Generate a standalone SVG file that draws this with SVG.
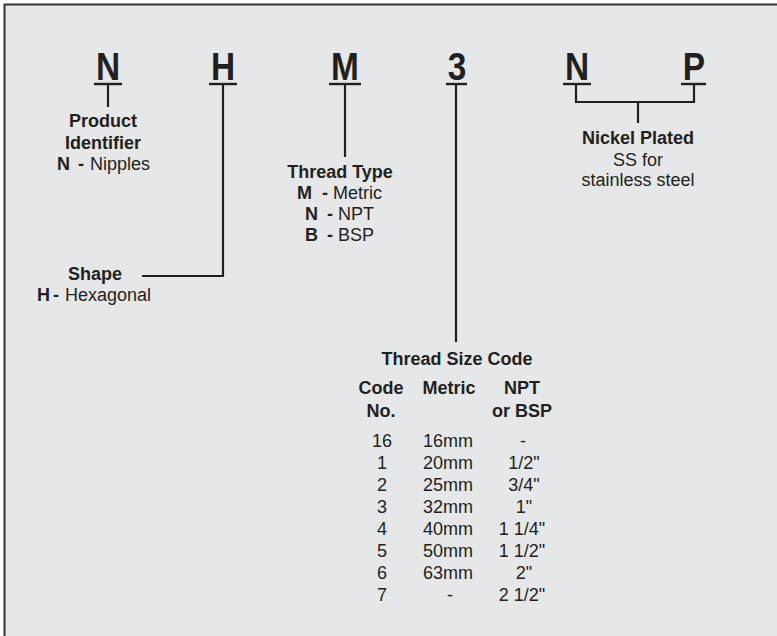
<svg xmlns="http://www.w3.org/2000/svg" width="777" height="636" viewBox="0 0 777 636">
<style>
text{font-family:"Liberation Sans",Arial,sans-serif;fill:#231f20;font-size:18px}
.b{font-weight:bold}
.c{text-anchor:middle}
.big{font-weight:bold;font-size:38px;text-anchor:middle}
.ln{stroke:#231f20;stroke-width:2.2;fill:none}
.ul{stroke:#231f20;stroke-width:2.4}
</style>
<rect x="0" y="0" width="777" height="636" fill="#ffffff"/>
<rect x="4.5" y="4.5" width="790" height="650" fill="#e6e7e8" stroke="#333333" stroke-width="2"/>
<g id="connectors">
<path class="ln" d="M108 85V107"/>
<path class="ln" d="M223 85V276H142"/>
<path class="ln" d="M345 85V157"/>
<path class="ln" d="M456 85V342"/>
<path class="ln" d="M576 85V102H694V85M638 102V123"/>
</g>
<g id="letter-N">
<text class="big" transform="translate(108 80) scale(0.88 1)">N</text>
<line class="ul" x1="94" y1="84" x2="122" y2="84"/>
</g>
<g id="letter-H">
<text class="big" transform="translate(223 80) scale(0.88 1)">H</text>
<line class="ul" x1="209" y1="84" x2="237" y2="84"/>
</g>
<g id="letter-M">
<text class="big" transform="translate(345 80) scale(0.88 1)">M</text>
<line class="ul" x1="329" y1="84" x2="361" y2="84"/>
</g>
<g id="letter-3">
<text class="big" transform="translate(457 80) scale(0.88 1)">3</text>
<line class="ul" x1="446" y1="84" x2="467" y2="84"/>
</g>
<g id="letter-N2">
<text class="big" transform="translate(577 80) scale(0.88 1)">N</text>
<line class="ul" x1="563" y1="84" x2="591" y2="84"/>
</g>
<g id="letter-P">
<text class="big" transform="translate(694 80) scale(0.88 1)">P</text>
<line class="ul" x1="681" y1="84" x2="706" y2="84"/>
</g>
<g id="product-identifier">
<text class="b c" x="103" y="127">Product</text>
<text class="b c" x="103" y="149">Identifier</text>
<text x="57" y="170"><tspan class="b">N</tspan><tspan class="b" x="78">-</tspan><tspan x="90">Nipples</tspan></text>
</g>
<g id="shape">
<text class="b c" x="95" y="280">Shape</text>
<text x="37" y="301"><tspan class="b">H</tspan><tspan class="b" x="53">-</tspan><tspan x="65">Hexagonal</tspan></text>
</g>
<g id="thread-type">
<text class="b c" x="340" y="178">Thread Type</text>
<text x="297" y="199"><tspan class="b">M</tspan><tspan class="b" x="322">-</tspan><tspan x="333">Metric</tspan></text>
<text x="305" y="220"><tspan class="b">N</tspan><tspan class="b" x="327">-</tspan><tspan x="338">NPT</tspan></text>
<text x="305" y="241"><tspan class="b">B</tspan><tspan class="b" x="327">-</tspan><tspan x="338">BSP</tspan></text>
</g>
<g id="nickel-plated">
<text class="b c" x="638" y="144">Nickel Plated</text>
<text class="c" x="638" y="166">SS for</text>
<text class="c" x="638" y="186">stainless steel</text>
</g>
<g id="thread-size-code">
<text class="b c" x="457" y="365">Thread Size Code</text>
<text class="b c" x="381" y="394">Code</text>
<text class="b c" x="381" y="417">No.</text>
<text class="b c" x="449" y="394">Metric</text>
<text class="b c" x="522" y="394">NPT</text>
<text class="b c" x="522" y="417">or BSP</text>
<g>
<text class="c" x="382" y="447">16</text><text class="c" x="448" y="447">16mm</text><text class="c" x="523" y="447">-</text>
<text class="c" x="382" y="469">1</text><text class="c" x="448" y="469">20mm</text><text class="c" x="524" y="469">1/2"</text>
<text class="c" x="382" y="491">2</text><text class="c" x="448" y="491">25mm</text><text class="c" x="524" y="491">3/4"</text>
<text class="c" x="382" y="513">3</text><text class="c" x="448" y="513">32mm</text><text class="c" x="524" y="513">1"</text>
<text class="c" x="382" y="535">4</text><text class="c" x="448" y="535">40mm</text><text class="c" x="522" y="535">1 1/4"</text>
<text class="c" x="382" y="557">5</text><text class="c" x="448" y="557">50mm</text><text class="c" x="522" y="557">1 1/2"</text>
<text class="c" x="382" y="579">6</text><text class="c" x="448" y="579">63mm</text><text class="c" x="524" y="579">2"</text>
<text class="c" x="382" y="601">7</text><text class="c" x="450" y="601">-</text><text class="c" x="522" y="601">2 1/2"</text>
</g>
</g>
</svg>
